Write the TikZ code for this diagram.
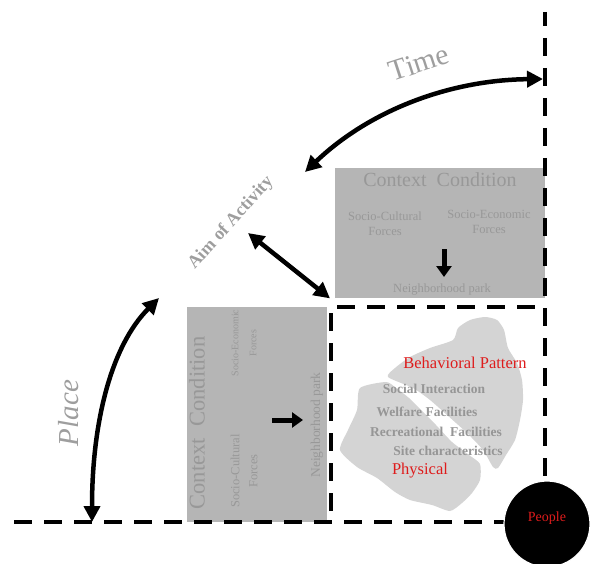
\documentclass[tikz,border=0pt]{standalone}
\usepackage{fontspec}
\setmainfont{Liberation Serif}
\usetikzlibrary{arrows.meta}
\definecolor{boxgray}{RGB}{181,181,181}
\definecolor{boxtext}{RGB}{152,152,152}
\definecolor{blobgray}{RGB}{212,212,212}
\definecolor{blobtext}{RGB}{150,150,150}
\definecolor{labelgray}{RGB}{158,158,158}
\definecolor{pattred}{RGB}{222,28,28}
\tikzset{
  dashline/.style={line width=4.5pt,dash pattern=on 18pt off 12pt},
  bigarrow/.style={line width=4.5pt,{Triangle[length=16pt,width=16pt]}-{Triangle[length=16pt,width=16pt]}},
  flowarrow/.style={line width=5pt,-{Triangle[length=11pt,width=15pt]}},
  ctxbox/.style={fill=boxgray,anchor=north west,inner sep=0pt},
  ctxtitle/.style={text=boxtext,font=\fontsize{20}{24}\selectfont},
  ctxforce/.style={text=boxtext,align=center,font=\fontsize{12.5}{15}\selectfont},
  blobitem/.style={text=blobtext,font=\bfseries\fontsize{13.5}{15}\selectfont},
  redlabel/.style={text=pattred,font=\fontsize{16.5}{20}\selectfont},
  axislabel/.style={text=labelgray,font=\fontsize{29.5}{31}\selectfont}
}
\begin{document}
\begin{tikzpicture}[x=1pt,y=-1pt]
  \useasboundingbox (0,0) rectangle (591,564);
  \node[ctxbox,minimum width=210pt,minimum height=130pt] (ctxup) at (335,168) {};
  \node[ctxbox,minimum width=140pt,minimum height=215pt] (ctxleft) at (187,307) {};
  \fill[blobgray] plot[smooth cycle,tension=0.4] coordinates {(388,377) (413,388) (430,400) (447,415) (467,433) (483,450) (493,467) (498,468) (506,455) (515,440) (520,420) (523,400) (522,380) (517,363) (508,348) (504,330) (497,320) (485,317) (470,320) (458,328) (453,340) (430,348) (410,357) (395,368)};
  \fill[blobgray] plot[smooth cycle,tension=0.4] coordinates {(360,388) (386,382) (396,388) (409,398) (422,411) (436,425) (452,442) (469,455) (480,464) (480,480) (472,493) (462,503) (450,511) (432,505) (410,500) (395,492) (377,478) (357,467) (340,450) (348,430) (357,410)};
  \draw[dashline,dash phase=4pt] (545,12) -- (545,482);
  \draw[dashline,dash phase=-1pt] (13,522) -- (505,522);
  \draw[dashline,dash phase=-11pt] (331,522) -- (331,307) -- (545,307);
  \node[circle,fill=black,draw=white,line width=1.2pt,minimum size=86pt,inner sep=0pt] (people) at (547,524) {};
  \node[text=pattred,font=\fontsize{14}{16}\selectfont] (peopletext) at (547,518) {People};
  \node[ctxtitle] (uptitle) at (440,180) {Context\ \ Condition};
  \node[ctxforce] (upcult) at (385,224) {Socio-Cultural\\Forces};
  \node[ctxforce] (upecon) at (489,222) {Socio-Economic\\Forces};
  \node[ctxforce] (uppark) at (442,290) {Neighborhood park};
  \coordinate (updownA) at (444,249);
  \coordinate (updownB) at (444,277);
  \draw[flowarrow] (updownA) -- (updownB);
  \node[ctxtitle,rotate=90,font=\fontsize{22.5}{24}\selectfont] (lefttitle) at (197,423) {Context\ \ Condition};
  \node[ctxforce,rotate=90,font=\fontsize{10}{18}\selectfont] (leftecon) at (244,343) {Socio-Economic\\Forces};
  \node[ctxforce,rotate=90,font=\fontsize{12.5}{18}\selectfont] (leftcult) at (244,471) {Socio-Cultural\\Forces};
  \node[ctxforce,rotate=90,font=\fontsize{13.5}{15}\selectfont] (leftpark) at (317,425) {Neighborhood park};
  \coordinate (leftrightA) at (272,420);
  \coordinate (leftrightB) at (303,420);
  \draw[flowarrow] (leftrightA) -- (leftrightB);
  \node[redlabel] (behav) at (465,363) {Behavioral Pattern};
  \node[blobitem] (social) at (434,389) {Social Interaction};
  \node[blobitem] (welfare) at (427,412) {Welfare Facilities};
  \node[blobitem] (recre) at (436,432) {Recreational\ \ Facilities};
  \node[blobitem] (site) at (448,451) {Site characteristics};
  \node[redlabel] (physical) at (420,471) {Physical};
  \node[axislabel,rotate=18] (time) at (419,63) {Time};
  \node[axislabel,rotate=90,font=\itshape\fontsize{29}{30}\selectfont] (place) at (69,413) {Place};
  \node[text=labelgray,rotate=48,font=\bfseries\fontsize{18}{20}\selectfont] (aim) at (231,223) {Aim of Activity};
  \coordinate (timeA) at (305,172);
  \coordinate (timeB) at (543,79);
  \coordinate (aimA) at (248,233);
  \coordinate (placeA) at (159,298);
  \coordinate (placeB) at (92,522);
  \draw[bigarrow] (timeA) .. controls (370,110) and (450,80) .. (timeB);
  \draw[bigarrow] (aimA) -- ([xshift=-5pt]ctxup.south west);
  \draw[bigarrow] (placeA) .. controls (112,345) and (92,420) .. (placeB);
\end{tikzpicture}
\end{document}
